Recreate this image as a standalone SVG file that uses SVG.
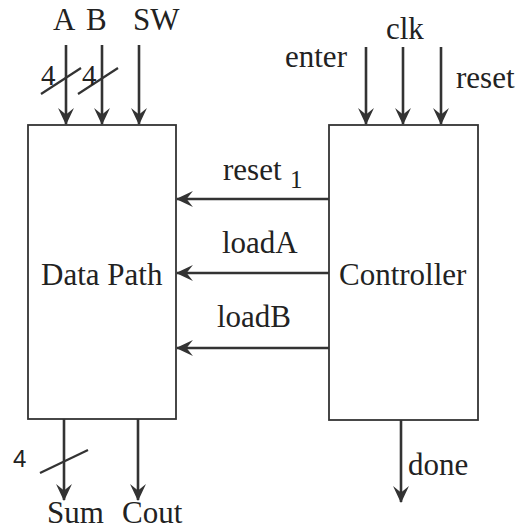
<svg xmlns="http://www.w3.org/2000/svg" width="519" height="531" viewBox="0 0 519 531">
<defs>
<marker id="arr" viewBox="0 0 16 16" refX="15" refY="8" markerWidth="17" markerHeight="17" markerUnits="userSpaceOnUse" orient="auto">
<path d="M0,0.5 L16,8 L0,15.5 L6,8 Z" fill="#333"/>
</marker>
<style>
.box{fill:#fff;stroke:#333;stroke-width:1.8}
.w{stroke:#333;stroke-width:2.6;fill:none}
.wa{stroke:#333;stroke-width:2.6;fill:none;marker-end:url(#arr)}
.sl{stroke:#333;stroke-width:2.2}
.t{font-family:"Liberation Serif","Times New Roman",serif;font-size:31px;fill:#222}
.n{font-family:"Liberation Serif","Times New Roman",serif;font-size:29px;fill:#222}
.ns{font-family:"Liberation Sans",Arial,sans-serif;font-size:24px;fill:#222}
</style>
</defs>
<rect width="519" height="531" fill="#fff"/>
<g id="datapath">
<rect class="box" x="28" y="125" width="148" height="294"/>
<text class="t" x="41" y="285">Data Path</text>
</g>
<g id="controller">
<rect class="box" x="329" y="125" width="149" height="295"/>
<text class="t" x="339" y="285">Controller</text>
</g>
<g id="connectors">
<line class="wa" x1="66" y1="45" x2="66" y2="124"/>
<line class="wa" x1="102" y1="45" x2="102" y2="124"/>
<line class="wa" x1="139" y1="45" x2="139" y2="124"/>
<line class="sl" x1="41" y1="94" x2="81" y2="68"/>
<line class="sl" x1="78" y1="94" x2="118" y2="68"/>
<line class="wa" x1="366" y1="47" x2="366" y2="124"/>
<line class="wa" x1="403" y1="47" x2="403" y2="124"/>
<line class="wa" x1="441" y1="47" x2="441" y2="124"/>
<line class="wa" x1="329" y1="199" x2="177" y2="199"/>
<line class="wa" x1="329" y1="273" x2="177" y2="273"/>
<line class="wa" x1="329" y1="348" x2="177" y2="348"/>
<line class="wa" x1="64" y1="419" x2="64" y2="500"/>
<line class="wa" x1="138" y1="419" x2="138" y2="500"/>
<line class="sl" x1="40" y1="473" x2="88" y2="450"/>
<line class="wa" x1="401" y1="420" x2="401" y2="502"/>
</g>
<g id="labels">
<text class="t" x="53" y="30">A</text>
<text class="t" x="86" y="30">B</text>
<text class="t" x="133" y="30">SW</text>
<text class="n" x="41" y="85">4</text>
<text class="n" x="82" y="85">4</text>
<text class="t" x="386" y="39">clk</text>
<text class="t" x="285" y="67">enter</text>
<text class="t" x="456" y="88">reset</text>
<text class="t" x="223" y="180">reset</text>
<text class="n" x="290" y="188" style="font-size:25px">1</text>
<text class="t" x="222" y="253">loadA</text>
<text class="t" x="217" y="327">loadB</text>
<text class="ns" x="13" y="467">4</text>
<text class="t" x="47" y="523">Sum</text>
<text class="t" x="122" y="523">Cout</text>
<text class="t" x="408" y="475">done</text>
</g>
</svg>
